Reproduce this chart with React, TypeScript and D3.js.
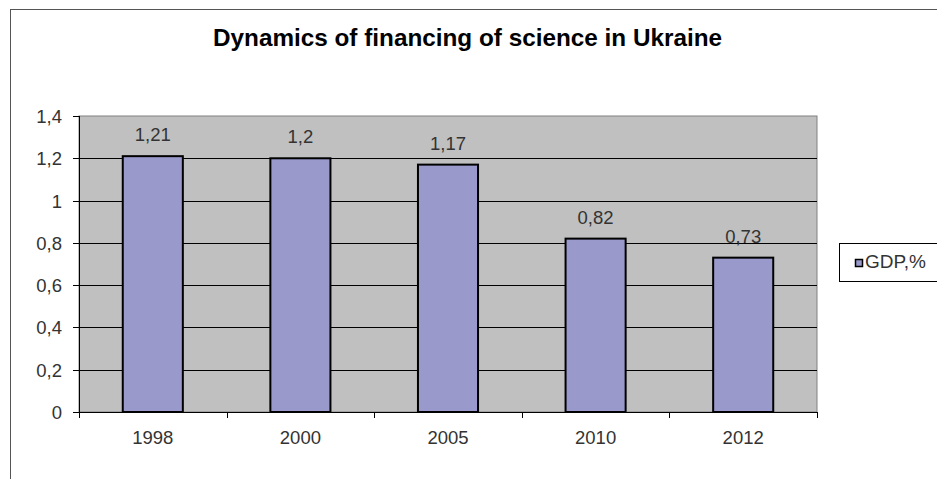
import React from "react";
import * as d3 from "d3";

const years = ["1998", "2000", "2005", "2010", "2012"];
const gdpShare = [1.21, 1.2, 1.17, 0.82, 0.73];
const yTicks = [0, 0.2, 0.4, 0.6, 0.8, 1, 1.2, 1.4];
const seriesName = "GDP,%";
const title = "Dynamics of financing of science in Ukraine";

const fmt = d3.formatLocale({decimal: ",", thousands: " ", grouping: [3], currency: ["", ""]}).format("~g");

export default function App() {
    const width = 937;
    const height = 479;
    const plot = {left: 79, top: 116, right: 817, bottom: 412};
    const font = "Arial, 'Liberation Sans', sans-serif";
    const txt = "#333";

    const x = d3.scaleBand<string>()
        .domain(years)
        .range([plot.left, plot.right])
        .paddingInner(0.593)
        .paddingOuter(0.2965);
    const xCat = d3.scaleBand<string>().domain(years).range([plot.left, plot.right]);
    const y = d3.scaleLinear().domain([0, 1.4]).range([plot.bottom, plot.top]);

    return (
        <svg width={width} height={height} style={{position: "absolute", left: 0, top: 0, background: "#fff"}}>
            <rect x={10.5} y={9.5} width={width + 20} height={height + 20} fill="#fff" stroke="#555" strokeWidth={1}/>
            <text x={467.5} y={46} textAnchor="middle" fontFamily={font} fontWeight="bold" fontSize={24.3}>{title}</text>

            <rect x={plot.left} y={plot.top} width={plot.right - plot.left} height={plot.bottom - plot.top}
                  fill="#C0C0C0" stroke="#808080" strokeWidth={1}/>
            {yTicks.map(t => (
                <g key={t}>
                    <line x1={plot.left - 6} x2={t === 0 || t === 1.4 ? plot.left : plot.right}
                          y1={Math.round(y(t)) + 0.5} y2={Math.round(y(t)) + 0.5} stroke="#000" strokeWidth={1}/>
                    <text x={62} y={y(t) + 7} textAnchor="end" fontFamily={font} fontSize={18.5} fill={txt}>{fmt(t)}</text>
                </g>
            ))}

            {years.map((yr, i) => (
                <g key={yr}>
                    <rect x={x(yr)} y={y(gdpShare[i])} width={x.bandwidth()} height={plot.bottom - y(gdpShare[i])}
                          fill="#9999CC" stroke="#000" strokeWidth={2}/>
                    <text x={(x(yr) as number) + x.bandwidth() / 2} y={y(gdpShare[i]) - 15} textAnchor="middle"
                          fontFamily={font} fontSize={18.5} fill={txt}>{fmt(gdpShare[i])}</text>
                    <text x={(xCat(yr) as number) + xCat.bandwidth() / 2} y={444} textAnchor="middle"
                          fontFamily={font} fontSize={18.5} fill={txt}>{yr}</text>
                </g>
            ))}

            <line x1={plot.left + 0.5} x2={plot.left + 0.5} y1={plot.top} y2={plot.bottom} stroke="#000"/>
            <line x1={plot.left} x2={plot.right} y1={plot.bottom + 0.5} y2={plot.bottom + 0.5} stroke="#000"/>
            {years.concat(["end"]).map((_, i) => {
                const tx = Math.round(plot.left + i * xCat.step()) + 0.5;
                return <line key={i} x1={tx} x2={tx} y1={plot.bottom} y2={plot.bottom + 6} stroke="#000"/>;
            })}

            <rect x={839.5} y={243.5} width={110} height={38} fill="#fff" stroke="#000"/>
            <rect x={855.5} y={259.5} width={7} height={7} fill="#9999CC" stroke="#000" strokeWidth={1.5}/>
            <text x={865} y={268} fontFamily={font} fontSize={19} fill={txt}>{seriesName}</text>
        </svg>
    );
}
